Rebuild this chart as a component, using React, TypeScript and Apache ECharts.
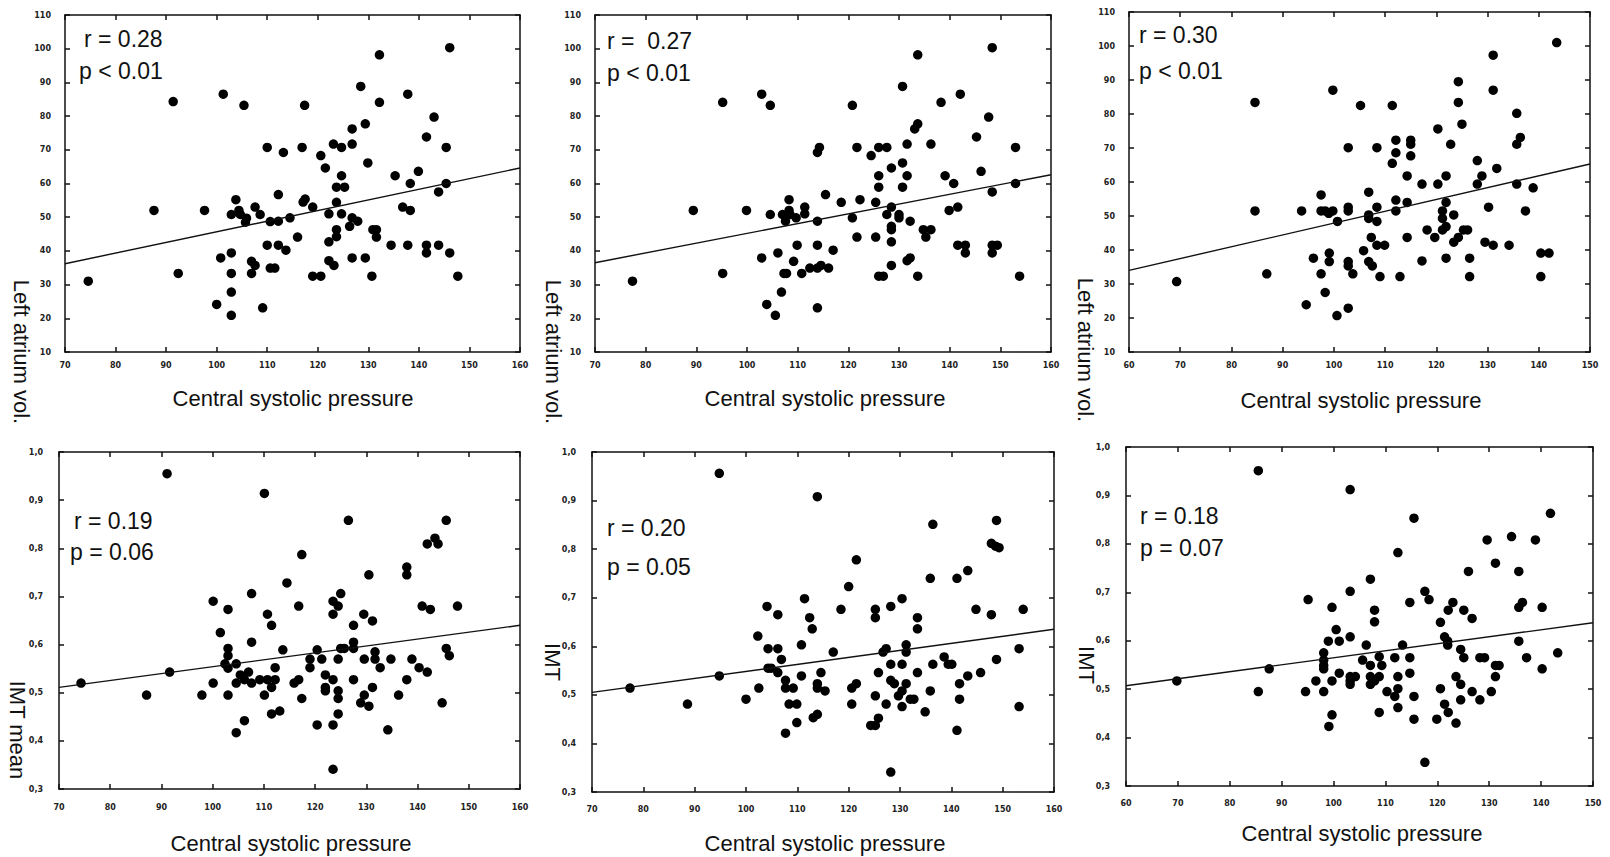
import React, { useEffect, useRef } from 'react';
import * as echarts from 'echarts';

// ---------- DATA ----------
// Left atrium volume vs central systolic pressure (three cohorts / methods)
const laCspA: number[][] = [
  [74.6,31.0],[87.6,52.0],[91.4,84.3],[92.4,33.3],[97.6,52.0],[100.0,24.1],[101.3,86.5],[100.8,37.9],[102.9,39.4],[102.9,33.3],
  [102.9,27.8],[102.9,20.9],[102.9,50.8],[103.8,55.2],[104.4,52.0],[104.7,50.8],[105.4,83.2],[105.7,48.5],[105.9,49.7],[106.9,36.9],
  [106.9,33.3],[107.6,53.0],[107.6,35.7],[108.6,50.8],[109.1,23.1],[110.0,70.7],[110.0,41.7],[110.6,48.7],[110.6,34.9],[111.5,34.9],
  [112.2,48.8],[112.2,56.7],[112.2,41.7],[113.2,69.2],[113.7,40.2],[114.5,49.8],[116.0,44.1],[116.9,70.7],[117.1,54.5],[117.5,55.4],
  [117.4,83.2],[119.0,53.0],[119.0,32.5],[120.6,32.5],[120.6,68.3],[121.5,64.6],[122.2,51.0],[122.2,42.7],[122.2,37.1],[123.1,71.7],
  [123.2,35.7],[123.7,58.9],[123.7,54.4],[123.7,46.3],[123.7,44.2],[124.7,70.7],[124.7,62.3],[124.7,51.0],[125.3,58.9],[126.3,47.3],
  [126.8,76.2],[126.8,71.7],[126.8,49.8],[126.8,37.9],[127.9,48.8],[128.5,88.8],[129.4,77.7],[129.4,37.9],[129.9,66.1],[130.7,32.5],
  [130.9,46.3],[131.6,46.3],[131.6,44.1],[132.2,98.2],[132.2,84.1],[134.5,41.7],[135.3,62.3],[136.8,53.0],[137.8,86.5],[137.8,41.7],
  [138.3,60.0],[138.3,52.0],[139.9,63.6],[141.5,73.8],[141.5,41.7],[141.5,39.4],[143.0,79.7],[143.9,57.5],[143.9,41.7],[145.4,70.7],
  [145.4,60.0],[146.1,100.3],[146.1,39.4],[147.7,32.5]
];
const laCspB: number[][] = [
  [77.4,31.0],[89.4,52.0],[95.2,84.1],[95.2,33.3],[99.9,52.0],[102.9,86.5],[102.9,37.9],[103.9,24.1],[104.6,50.8],[104.6,83.2],
  [105.6,20.9],[106.1,39.4],[106.8,27.8],[107.0,50.8],[107.3,33.3],[107.6,48.8],[107.8,33.3],[108.3,55.2],[108.3,52.0],[108.5,50.8],
  [109.2,36.9],[109.7,49.8],[109.9,41.7],[110.8,33.3],[111.4,53.0],[111.4,51.0],[112.4,34.9],[113.9,69.2],[114.3,70.7],[113.9,48.8],
  [113.9,41.7],[113.9,34.9],[113.9,23.1],[114.6,35.7],[115.5,56.7],[116.1,34.9],[117.0,40.2],[118.6,54.4],[120.8,83.2],[120.8,49.8],
  [121.7,70.7],[121.7,44.1],[122.3,55.2],[124.5,68.3],[125.4,54.4],[125.4,44.1],[126.0,70.7],[126.0,62.3],[126.0,58.9],[126.0,32.5],
  [126.9,32.5],[127.6,70.7],[127.6,50.8],[128.5,64.6],[128.5,53.0],[128.5,47.3],[128.5,46.3],[128.5,42.7],[128.5,35.7],[130.0,50.8],
  [130.0,49.8],[130.7,88.8],[130.7,66.1],[130.7,58.9],[131.6,71.7],[131.6,62.3],[131.6,37.1],[132.2,37.9],[132.2,48.8],[133.1,76.2],
  [133.7,77.7],[133.7,98.2],[133.7,32.5],[134.8,46.3],[135.3,44.1],[136.3,46.3],[136.3,71.7],[138.3,84.1],[139.1,62.3],[139.9,52.0],
  [140.8,60.0],[141.6,53.0],[141.6,41.7],[142.1,86.5],[143.1,41.7],[143.1,39.4],[145.3,73.8],[146.2,63.6],[147.7,79.7],[148.4,100.3],
  [148.4,57.5],[148.4,41.7],[148.4,39.4],[149.4,41.7],[153.0,70.7],[153.0,60.0],[153.8,32.5]
];
const laCspC: number[][] = [
  [69.3,30.7],[84.6,83.4],[84.6,51.5],[86.9,33.0],[93.7,51.5],[94.6,23.9],[96.0,37.6],[97.5,56.2],[97.5,51.5],[97.5,33.0],
  [98.3,27.5],[98.3,51.5],[99.0,50.8],[99.1,39.1],[99.1,36.6],[99.8,87.0],[99.8,51.5],[100.7,48.4],[100.6,20.7],[102.8,70.1],
  [102.8,52.6],[102.8,51.5],[102.8,36.6],[102.8,35.3],[102.8,22.9],[103.7,33.0],[105.2,82.5],[105.8,39.8],[106.8,57.0],[106.8,50.3],
  [106.8,49.3],[106.8,36.6],[107.3,43.7],[107.5,35.3],[108.4,70.1],[108.4,52.6],[108.4,48.4],[108.4,41.4],[109.0,32.2],[109.9,41.4],
  [111.4,82.5],[111.4,65.5],[112.1,72.3],[112.1,68.6],[112.1,54.7],[112.1,51.5],[112.9,32.2],[114.3,61.8],[114.3,54.0],[114.3,43.7],
  [115.0,72.3],[115.0,71.1],[115.0,67.7],[117.2,59.4],[117.2,36.8],[118.2,45.9],[119.7,43.7],[120.3,75.6],[120.3,59.4],[121.2,51.5],
  [121.2,49.3],[121.2,45.9],[121.9,61.8],[121.9,54.0],[121.9,46.9],[121.9,37.6],[122.8,71.1],[123.4,50.3],[123.4,42.3],[124.3,89.5],
  [124.3,83.4],[124.3,43.7],[125.0,77.0],[125.3,45.9],[126.1,45.9],[126.5,37.6],[126.5,32.2],[128.0,66.3],[128.0,59.4],[128.9,61.8],
  [129.5,42.3],[130.2,52.6],[131.1,97.3],[131.1,87.0],[131.1,41.4],[131.8,64.0],[134.2,41.4],[135.7,80.2],[135.7,71.1],[135.7,59.4],
  [136.4,73.1],[137.4,51.5],[138.9,58.3],[140.4,39.1],[140.4,32.2],[142.0,39.1],[143.5,101.0]
];
// IMT vs central systolic pressure
const imtCspA: number[][] = [
  [74.3,0.520],[87.1,0.495],[91.1,0.955],[91.6,0.543],[97.9,0.495],[100.1,0.520],[100.1,0.690],[101.5,0.625],[102.4,0.560],[103.0,0.673],
  [103.0,0.592],[103.0,0.577],[103.0,0.551],[103.0,0.495],[104.6,0.560],[104.6,0.520],[104.6,0.417],[105.4,0.537],[106.2,0.442],[106.2,0.527],
  [107.0,0.543],[107.6,0.706],[107.6,0.605],[107.6,0.520],[109.2,0.527],[110.1,0.495],[110.1,0.914],[110.7,0.663],[110.7,0.527],[111.5,0.640],
  [111.5,0.511],[111.5,0.456],[112.2,0.552],[112.2,0.527],[113.1,0.462],[113.7,0.589],[114.5,0.728],[115.9,0.520],[116.8,0.527],[116.8,0.680],
  [117.4,0.787],[117.4,0.488],[119.0,0.570],[119.0,0.552],[120.4,0.589],[120.4,0.433],[121.3,0.570],[122.0,0.537],[122.0,0.511],[122.0,0.504],
  [123.5,0.690],[123.5,0.663],[123.5,0.527],[123.5,0.433],[123.5,0.341],[124.5,0.680],[124.5,0.570],[124.5,0.504],[124.5,0.488],[124.5,0.456],
  [125.0,0.706],[125.0,0.592],[125.7,0.592],[126.5,0.858],[127.5,0.640],[127.5,0.605],[127.5,0.592],[127.5,0.527],[128.9,0.479],[129.5,0.663],
  [129.6,0.570],[129.6,0.495],[130.5,0.745],[130.5,0.472],[131.2,0.649],[131.2,0.511],[131.7,0.585],[131.7,0.570],[132.7,0.552],[134.2,0.423],
  [134.8,0.570],[136.3,0.495],[137.9,0.761],[137.9,0.745],[137.9,0.527],[138.9,0.570],[140.3,0.552],[140.9,0.680],[141.9,0.809],[141.9,0.543],
  [142.5,0.673],[143.4,0.821],[144.0,0.809],[144.8,0.479],[145.6,0.858],[145.6,0.592],[146.2,0.577],[147.8,0.680]
];
const imtCspB: number[][] = [
  [77.4,0.514],[88.6,0.481],[94.8,0.956],[94.8,0.539],[100.0,0.491],[102.3,0.621],[102.5,0.514],[104.1,0.682],[104.3,0.595],[104.3,0.555],
  [104.9,0.555],[106.2,0.665],[106.2,0.595],[106.2,0.546],[106.9,0.573],[107.7,0.530],[107.7,0.514],[107.7,0.421],[108.4,0.481],[109.2,0.514],
  [109.9,0.481],[109.9,0.443],[110.8,0.603],[110.8,0.539],[111.4,0.698],[112.4,0.659],[112.9,0.636],[113.1,0.453],[113.9,0.460],[113.9,0.908],
  [113.9,0.523],[113.9,0.514],[114.6,0.546],[115.4,0.508],[117.0,0.588],[118.5,0.676],[120.0,0.723],[120.6,0.514],[120.6,0.481],[121.5,0.778],
  [121.5,0.523],[124.3,0.437],[125.2,0.437],[125.2,0.676],[125.2,0.659],[125.2,0.498],[125.8,0.546],[125.8,0.452],[126.7,0.588],[127.3,0.595],
  [127.3,0.481],[128.2,0.682],[128.2,0.563],[128.2,0.530],[128.9,0.523],[128.2,0.341],[129.7,0.498],[130.4,0.698],[130.4,0.563],[130.4,0.508],
  [130.4,0.476],[131.2,0.603],[131.2,0.588],[131.2,0.523],[132.0,0.491],[132.7,0.491],[133.4,0.659],[133.4,0.636],[133.4,0.546],[134.9,0.465],
  [135.9,0.740],[135.9,0.508],[136.4,0.851],[136.4,0.563],[138.6,0.578],[139.4,0.563],[140.1,0.563],[141.1,0.740],[141.1,0.427],[141.6,0.523],
  [141.6,0.491],[143.2,0.756],[143.2,0.539],[144.8,0.676],[145.7,0.546],[147.8,0.665],[147.8,0.812],[148.6,0.806],[148.8,0.859],[149.3,0.803],
  [148.8,0.573],[153.2,0.595],[153.2,0.476],[154.0,0.676]
];
const imtCspC: number[][] = [
  [69.8,0.517],[85.5,0.951],[85.5,0.495],[87.6,0.542],[94.6,0.495],[95.1,0.685],[96.6,0.517],[98.1,0.575],[98.1,0.560],[98.1,0.549],
  [98.1,0.542],[98.1,0.495],[99.0,0.599],[99.1,0.423],[99.7,0.447],[99.7,0.669],[99.7,0.517],[100.5,0.623],[101.1,0.599],[101.1,0.533],
  [103.2,0.912],[103.2,0.702],[103.2,0.608],[103.2,0.526],[103.2,0.517],[103.2,0.510],[104.2,0.526],[105.6,0.560],[106.3,0.591],[107.1,0.727],
  [107.1,0.549],[107.1,0.526],[107.1,0.510],[107.9,0.663],[107.9,0.639],[107.9,0.517],[108.8,0.567],[108.8,0.526],[108.8,0.452],[109.3,0.549],
  [110.3,0.495],[111.8,0.565],[111.8,0.485],[112.4,0.782],[112.4,0.526],[112.4,0.501],[112.4,0.462],[113.3,0.591],[114.7,0.679],[114.7,0.565],
  [114.7,0.533],[115.5,0.853],[115.5,0.485],[115.5,0.438],[117.6,0.702],[117.6,0.349],[118.4,0.685],[119.9,0.438],[120.6,0.638],[120.6,0.501],
  [121.4,0.608],[121.4,0.469],[122.0,0.599],[122.0,0.591],[122.1,0.663],[122.1,0.452],[123.0,0.679],[123.6,0.526],[123.6,0.430],[124.5,0.582],
  [124.5,0.510],[124.5,0.478],[125.1,0.663],[125.1,0.565],[126.0,0.743],[126.7,0.646],[126.7,0.495],[128.2,0.565],[128.2,0.478],[129.1,0.565],
  [129.6,0.808],[130.4,0.495],[131.2,0.760],[131.2,0.549],[131.2,0.526],[131.9,0.549],[134.3,0.815],[135.7,0.743],[135.7,0.669],[135.7,0.599],
  [136.4,0.679],[137.2,0.565],[138.9,0.808],[140.2,0.669],[140.2,0.542],[141.8,0.863],[143.2,0.575]
];
// Regression lines (end points)
const regLaA = [[70, 36.2], [160, 64.6]];
const regLaB = [[70, 36.5], [160, 62.6]];
const regLaC = [[60, 34.0], [150, 65.3]];
const regImtA = [[70, 0.511], [160, 0.640]];
const regImtB = [[70, 0.505], [160, 0.635]];
const regImtC = [[60, 0.507], [150, 0.637]];
// Statistics annotations
const rTexts = ['r = 0.28', 'r =  0.27', 'r = 0.30', 'r = 0.19', 'r = 0.20', 'r = 0.18'];
const pTexts = ['p < 0.01', 'p < 0.01', 'p < 0.01', 'p = 0.06', 'p = 0.05', 'p = 0.07'];
const yNames = ['Left atrium vol.', 'Left atrium vol.', 'Left atrium vol.', 'IMT mean', 'IMT', 'IMT'];
const xName = 'Central systolic pressure';
// Axis ranges
const xRangeA = [70, 160];
const xRangeC = [60, 150];
const yRangeLa = [10, 110];
const yRangeImt = [0.3, 1.0];

// ---------- LAYOUT ----------
const panels = [
  { data: laCspA, reg: regLaA, xr: xRangeA, yr: yRangeLa, yi: 10, imt: false,
    grid: { left: 65, top: 15, width: 455, height: 337 }, yLab: [21, 352], xLab: [293, 398], r: [84, 39], p: [79, 71], xm: 9, ym: 14 },
  { data: laCspB, reg: regLaB, xr: xRangeA, yr: yRangeLa, yi: 10, imt: false,
    grid: { left: 595, top: 15, width: 456, height: 337 }, yLab: [553, 352], xLab: [825, 398], r: [607, 41], p: [607, 73], xm: 9, ym: 14 },
  { data: laCspC, reg: regLaC, xr: xRangeC, yr: yRangeLa, yi: 10, imt: false,
    grid: { left: 1129, top: 12, width: 461, height: 340 }, yLab: [1085, 350], xLab: [1361, 400], r: [1139, 35], p: [1139, 71], xm: 9, ym: 14 },
  { data: imtCspA, reg: regImtA, xr: xRangeA, yr: yRangeImt, yi: 0.1, imt: true,
    grid: { left: 59, top: 452, width: 461, height: 337 }, yLab: [17, 730], xLab: [291, 843], r: [74, 521], p: [70, 552], xm: 14, ym: 16 },
  { data: imtCspB, reg: regImtB, xr: xRangeA, yr: yRangeImt, yi: 0.1, imt: true,
    grid: { left: 592, top: 452, width: 462, height: 340 }, yLab: [552, 662], xLab: [825, 843], r: [607, 528], p: [607, 567], xm: 13, ym: 16 },
  { data: imtCspC, reg: regImtC, xr: xRangeC, yr: yRangeImt, yi: 0.1, imt: true,
    grid: { left: 1126, top: 447, width: 467, height: 339 }, yLab: [1086, 665], xLab: [1362, 833], r: [1140, 516], p: [1140, 548], xm: 13, ym: 16 },
];

const INK = '#111111';
const TICKFONT = { fontSize: 8, fontWeight: 'bold' as const, fontFamily: 'DejaVu Sans', color: '#222222' };
const BIGFONT = 'Liberation Sans, Arial, sans-serif';

function buildOption() {
  const grid: any[] = [];
  const xAxis: any[] = [];
  const yAxis: any[] = [];
  const series: any[] = [];
  const graphic: any[] = [];
  const line = { show: true, lineStyle: { color: INK, width: 1.5 } };
  const tick = { show: true, inside: true, length: 5, lineStyle: { color: INK, width: 1.5 } };

  panels.forEach((p, i) => {
    grid.push({ ...p.grid, containLabel: false, outerBoundsMode: 'none' });
    const xBase = { type: 'value', gridIndex: i, min: p.xr[0], max: p.xr[1], interval: 10,
      axisLine: line, axisTick: tick, splitLine: { show: false } };
    const yBase = { type: 'value', gridIndex: i, min: p.yr[0], max: p.yr[1], interval: p.yi,
      axisLine: line, axisTick: tick, splitLine: { show: false } };
    xAxis.push({ ...xBase, position: 'bottom',
      axisLabel: { ...TICKFONT, margin: p.xm, showMinLabel: true, showMaxLabel: true } });
    xAxis.push({ ...xBase, position: 'top', axisLabel: { show: false } });
    yAxis.push({ ...yBase, position: 'left',
      axisLabel: { ...TICKFONT, margin: p.ym, showMinLabel: true, showMaxLabel: true,
        formatter: (v: number) => (p.imt ? v.toFixed(1).replace('.', ',') : String(Math.round(v))) } });
    yAxis.push({ ...yBase, position: 'right', axisLabel: { show: false } });

    series.push({ type: 'scatter', xAxisIndex: 2 * i, yAxisIndex: 2 * i, data: p.data,
      symbol: 'circle', symbolSize: 9.5, itemStyle: { color: '#000', opacity: 1 }, silent: true });
    series.push({ type: 'line', xAxisIndex: 2 * i, yAxisIndex: 2 * i, data: p.reg,
      symbol: 'none', lineStyle: { color: INK, width: 1.4 }, silent: true });

    graphic.push({ type: 'text', x: p.yLab[0], y: p.yLab[1], rotation: -Math.PI / 2,
      style: { text: yNames[i], fontSize: 22, fontFamily: BIGFONT, fill: INK, textAlign: 'center', textVerticalAlign: 'middle' } });
    graphic.push({ type: 'text', x: p.xLab[0], y: p.xLab[1],
      style: { text: xName, fontSize: 22, fontFamily: BIGFONT, fill: INK, textAlign: 'center', textVerticalAlign: 'middle' } });
    graphic.push({ type: 'text', x: p.r[0], y: p.r[1],
      style: { text: rTexts[i], fontSize: 23, fontFamily: BIGFONT, fill: INK, textAlign: 'left', textVerticalAlign: 'middle' } });
    graphic.push({ type: 'text', x: p.p[0], y: p.p[1],
      style: { text: pTexts[i], fontSize: 23, fontFamily: BIGFONT, fill: INK, textAlign: 'left', textVerticalAlign: 'middle' } });
  });

  return { animation: false, backgroundColor: '#ffffff', grid, xAxis, yAxis, series, graphic };
}

export default function App() {
  const ref = useRef<HTMLDivElement>(null);
  useEffect(() => {
    const chart = echarts.init(ref.current as HTMLDivElement, null, { renderer: 'svg' });
    chart.setOption(buildOption() as any);
    return () => chart.dispose();
  }, []);
  return (
    <div
      ref={ref}
      style={{ position: 'absolute', left: 0, top: 0, width: 1610, height: 857, background: '#fff' }}
    />
  );
}
